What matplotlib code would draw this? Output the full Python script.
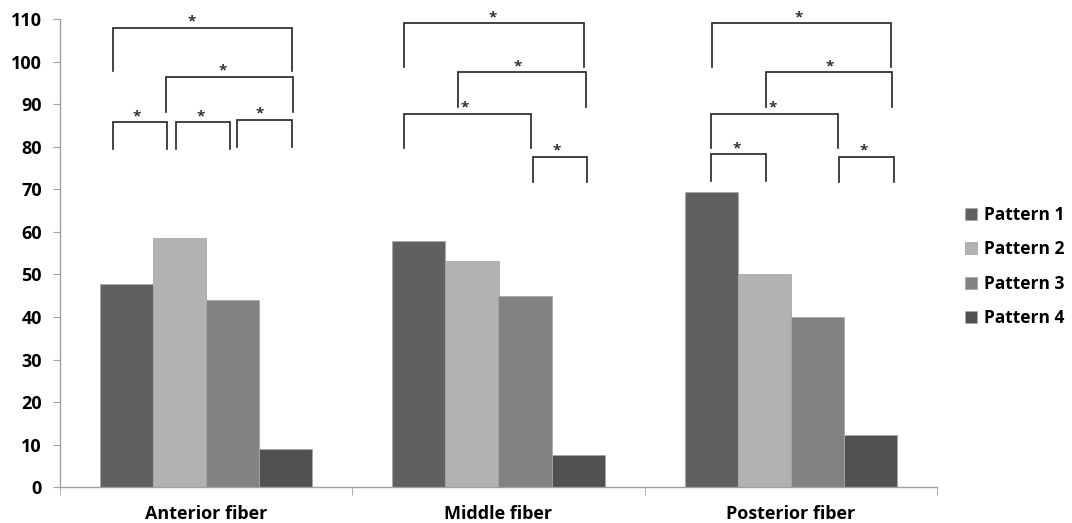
import matplotlib
matplotlib.use("Agg")
from matplotlib import pyplot as plt
import numpy as np

# data
categories = ["Anterior fiber", "Middle fiber", "Posterior fiber"]
series = ["Pattern 1", "Pattern 2", "Pattern 3", "Pattern 4"]
pattern1 = [47.8, 57.9, 69.4]
pattern2 = [58.6, 53.2, 50.2]
pattern3 = [44.1, 45.0, 40.1]
pattern4 = [9.1, 7.5, 12.4]
colors = ["#606060", "#b2b2b2", "#828282", "#4f514f"]

# significance brackets: (category, x1, x2, top, leg left, leg right, star x)
# x values relative to the category centre
brackets = [
    (0, -0.320, 0.295, 108.0, 97.8, 97.8, -0.049),
    (0, -0.138, 0.297, 96.4, 88.2, 88.2, 0.058),
    (0, -0.320, -0.134, 85.7, 79.5, 79.5, -0.238),
    (0, -0.102, 0.083, 85.7, 79.5, 79.5, -0.018),
    (0, 0.107, 0.294, 86.3, 80.0, 80.0, 0.184),
    (1, -0.322, 0.294, 109.0, 98.8, 98.8, -0.021),
    (1, -0.137, 0.299, 97.5, 89.3, 89.3, 0.067),
    (1, -0.322, 0.111, 87.8, 79.8, 79.8, -0.115),
    (1, 0.117, 0.303, 77.7, 71.6, 71.6, 0.200),
    (2, -0.270, 0.342, 109.0, 98.8, 98.8, 0.028),
    (2, -0.086, 0.346, 97.5, 89.3, 89.3, 0.132),
    (2, -0.274, 0.161, 87.8, 79.8, 79.8, -0.061),
    (2, -0.274, -0.086, 78.2, 72.0, 72.0, -0.184),
    (2, 0.165, 0.353, 77.7, 71.6, 71.6, 0.250),
]

plt.rcParams["font.family"] = ["Open Sans", "DejaVu Sans"]
plt.rcParams["font.weight"] = "bold"

fig = plt.figure(figsize=(10.72, 5.23), dpi=100)
ax = fig.add_axes([60 / 1072, 1 - 487.3 / 523, 877 / 1072, (487.3 - 19) / 523])

values = [pattern1, pattern2, pattern3, pattern4]
x = np.arange(len(categories))
w = 0.1815
for i, (vals, name) in enumerate(zip(values, series)):
    ax.bar(x + (i - 1.5) * w, vals, w, color=colors[i], label=name,
           edgecolor="#a8a8a8", linewidth=0.6)

for c, x1, x2, top, l1, l2, sx in brackets:
    ax.plot([c + x1, c + x1, c + x2, c + x2], [l1, top, top, l2],
            color="#222222", lw=1.2, solid_joinstyle="miter", clip_on=False)
    ax.text(c + sx, top + 1.4, "*", ha="center", va="center",
            fontsize=11, color="#333333", clip_on=False)

ax.set_xlim(-0.5, 2.5)
ax.set_ylim(0, 110)
ax.set_yticks(np.arange(0, 111, 10))
ax.set_xticks(x)
ax.set_xticklabels(categories)
ax.set_xticks([-0.5, 0.5, 1.5, 2.5], minor=True)

for s in ["top", "right"]:
    ax.spines[s].set_visible(False)
for s in ["left", "bottom"]:
    ax.spines[s].set_color("#a0a0a0")
    ax.spines[s].set_linewidth(1.0)

ax.tick_params(axis="y", direction="out", length=5, color="#a0a0a0",
               labelsize=13, pad=8)
ax.tick_params(axis="x", which="major", length=0, labelsize=13, pad=13)
ax.tick_params(axis="x", which="minor", direction="out", length=6,
               color="#a0a0a0")

fig.legend(loc="center left", bbox_to_anchor=(965 / 1072, 1 - 266.5 / 523),
           frameon=False, fontsize=12.5, handlelength=0.7, handleheight=0.7,
           handletextpad=0.4, labelspacing=0.95, borderpad=0, borderaxespad=0)

fig.savefig("out.png", dpi=100)
